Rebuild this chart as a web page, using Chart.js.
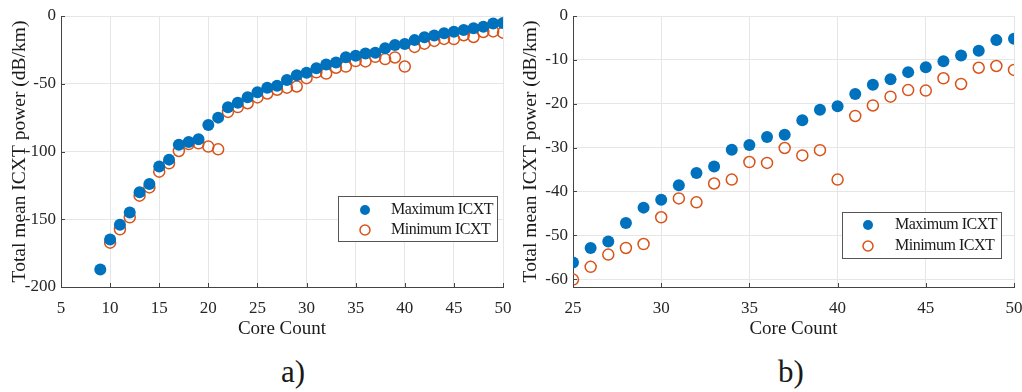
<!DOCTYPE html>
<html>
<head>
<meta charset="utf-8">
<script src="https://cdn.jsdelivr.net/npm/chart.js@4.4.1/dist/chart.umd.min.js"></script>
<style>
  body { margin: 0; background: #fff; }
  #wrap { position: relative; width: 1022px; height: 392px; background: #fff;
          font-family: 'Liberation Serif', 'Times New Roman', serif; color: #1a1a1a; }
  .panel { position: absolute; top: 0; }
  .tag { position: absolute; top: 356px; font-size: 31px; line-height: 1; }
</style>
</head>
<body>
<div id="wrap">
  <canvas id="chartA" class="panel" style="left:0" width="511" height="340"></canvas>
  <canvas id="chartB" class="panel" style="left:511px" width="511" height="340"></canvas>
  <div class="tag" style="left:281px">a)</div>
  <div class="tag" style="left:778px">b)</div>
</div>
<script>
// core counts
const coresMax = [9, 10, 11, 12, 13, 14, 15, 16, 17, 18, 19, 20, 21, 22, 23, 24, 25, 26, 27, 28, 29,
  30, 31, 32, 33, 34, 35, 36, 37, 38, 39, 40, 41, 42, 43, 44, 45, 46, 47, 48, 49, 50];
const coresMin = [10, 11, 12, 13, 14, 15, 16, 17, 18, 19, 20, 21, 22, 23, 24, 25, 26, 27, 28, 29,
  30, 31, 32, 33, 34, 35, 36, 37, 38, 39, 40, 41, 42, 43, 44, 45, 46, 47, 48, 49, 50];

// total mean ICXT power, dB/km
const maxICXT = [-187, -165, -154, -145, -130, -124, -111, -106, -95, -93, -91, -80.4, -75, -67.4,
  -64, -60, -56.2, -52.9, -51.4, -47.2, -43.7, -41.9, -38.6, -35.8, -34.3, -30.5, -29.4, -27.6,
  -27.1, -23.8, -21.4, -20.6, -17.8, -15.7, -14.4, -12.8, -11.7, -10.3, -9.0, -7.9, -5.5, -5.2];
const minICXT = [-167.3, -157.4, -148.6, -132.6, -126.5, -114.9, -108.7, -99.6, -94.5, -94, -96.4,
  -98.4, -70.8, -67.2, -64.4, -60.1, -57.2, -54.4, -52.9, -52, -45.9, -41.6, -42.5, -38.2, -37.3,
  -33.3, -33.5, -30.1, -31.8, -30.6, -37.3, -22.8, -20.4, -18.4, -16.9, -17, -14.2, -15.5, -11.8,
  -11.4, -12.3];

const xTicksA = [5, 10, 15, 20, 25, 30, 35, 40, 45, 50];
const yTicksA = [-200, -150, -100, -50, 0];
const xTicksB = [25, 30, 35, 40, 45, 50];
const yTicksB = [-60, -50, -40, -30, -20, -10, 0];

const BLUE = '#0072BD';
const ORANGE = '#D95319';
const FONT = "'Liberation Serif', 'Times New Roman', serif";

function points(xs, ys, fromX) {
  return xs.map((x, i) => ({ x: x, y: ys[i] })).filter(p => p.x >= fromX);
}

// legend box drawn inside the plot area, plus inward tick marks
const boxLegend = {
  id: 'boxLegend',
  afterDraw(chart, args, opts) {
    const ctx = chart.ctx;
    ctx.save();
    ctx.fillStyle = '#fff';
    ctx.fillRect(opts.x, opts.y, opts.w, opts.h);
    ctx.strokeStyle = '#555';
    ctx.lineWidth = 1;
    ctx.strokeRect(opts.x + 0.5, opts.y + 0.5, opts.w, opts.h);
    ctx.font = '16px ' + FONT;
    ctx.letterSpacing = '-0.5px';
    ctx.textBaseline = 'middle';
    chart.data.datasets.forEach((ds, i) => {
      const cy = opts.y + opts.rowY[i];
      ctx.beginPath();
      ctx.arc(opts.x + opts.markX, cy, 5, 0, Math.PI * 2);
      if (ds.pointStyleFill) {
        ctx.fillStyle = ds.pointBackgroundColor;
        ctx.fill();
      } else {
        ctx.lineWidth = 1.5;
        ctx.strokeStyle = ds.pointBorderColor;
        ctx.stroke();
      }
      ctx.fillStyle = '#1a1a1a';
      ctx.fillText(ds.label, opts.x + opts.textX, cy);
    });
    const xs = chart.scales.x, ys = chart.scales.y;
    ctx.strokeStyle = '#444';
    ctx.lineWidth = 1;
    xs.ticks.forEach(t => {
      const px = Math.round(xs.getPixelForValue(t.value)) + 0.5;
      ctx.beginPath(); ctx.moveTo(px, ys.bottom); ctx.lineTo(px, ys.bottom - 4); ctx.stroke();
    });
    ys.ticks.forEach(t => {
      const py = Math.round(ys.getPixelForValue(t.value)) + 0.5;
      ctx.beginPath(); ctx.moveTo(xs.left, py); ctx.lineTo(xs.left + 4, py); ctx.stroke();
    });
    ctx.restore();
  }
};

function makeChart(id, cfg) {
  return new Chart(document.getElementById(id), {
    type: 'scatter',
    data: {
      datasets: [
        { label: 'Maximum ICXT', data: points(coresMax, maxICXT, cfg.fromX),
          pointRadius: 6, pointStyleFill: true, pointBackgroundColor: BLUE,
          pointBorderColor: BLUE, pointBorderWidth: 0 },
        { label: 'Minimum ICXT', data: points(coresMin, minICXT, cfg.fromX),
          pointRadius: 5.5, pointBackgroundColor: 'rgba(0,0,0,0)',
          pointBorderColor: ORANGE, pointBorderWidth: 1.5 }
      ]
    },
    options: {
      responsive: false,
      animation: false,
      layout: { padding: { top: 16, right: 8, left: 0, bottom: 0 } },
      plugins: {
        legend: { display: false },
        tooltip: { enabled: false },
        boxLegend: cfg.legend
      },
      scales: {
        x: {
          min: cfg.xMin, max: 50,
          afterBuildTicks: s => { s.ticks = cfg.xTicks.map(v => ({ value: v })); },
          afterFit: s => { s.height = 53; s.paddingLeft = 0; s.paddingRight = 0; },
          grid: { color: '#e6e6e6', drawTicks: false },
          border: { color: '#444', width: 1 },
          ticks: { color: '#262626', padding: 11, font: { family: FONT, size: 17 } },
          title: { display: true, text: 'Core Count', color: '#1a1a1a',
                   padding: { top: 0, bottom: 0 }, font: { family: FONT, size: 19 } }
        },
        y: {
          min: cfg.yMin, max: 0,
          afterBuildTicks: s => { s.ticks = cfg.yTicks.map(v => ({ value: v })); },
          afterFit: s => { s.width = cfg.yWidth; s.paddingTop = 0; s.paddingBottom = 0; },
          grid: { color: '#e6e6e6', drawTicks: false },
          border: { color: '#444', width: 1 },
          ticks: { color: '#262626', padding: 5, font: { family: FONT, size: 17 } },
          title: { display: true, text: 'Total mean ICXT power (dB/km)', color: '#1a1a1a',
                   padding: { top: 8, bottom: 0 }, font: { family: FONT, size: 19.5 } }
        }
      }
    },
    plugins: [boxLegend]
  });
}

makeChart('chartA', {
  fromX: 0, xMin: 5, yMin: -200, xTicks: xTicksA, yTicks: yTicksA, yWidth: 61,
  legend: { x: 338, y: 196, w: 159, h: 45, markX: 27, textX: 53, rowY: [14, 34] }
});
makeChart('chartB', {
  fromX: 25, xMin: 25, yMin: -61.8, xTicks: xTicksB, yTicks: yTicksB, yWidth: 62,
  legend: { x: 331, y: 212, w: 159, h: 46, markX: 26, textX: 53, rowY: [13, 34] }
});
</script>
</body>
</html>
